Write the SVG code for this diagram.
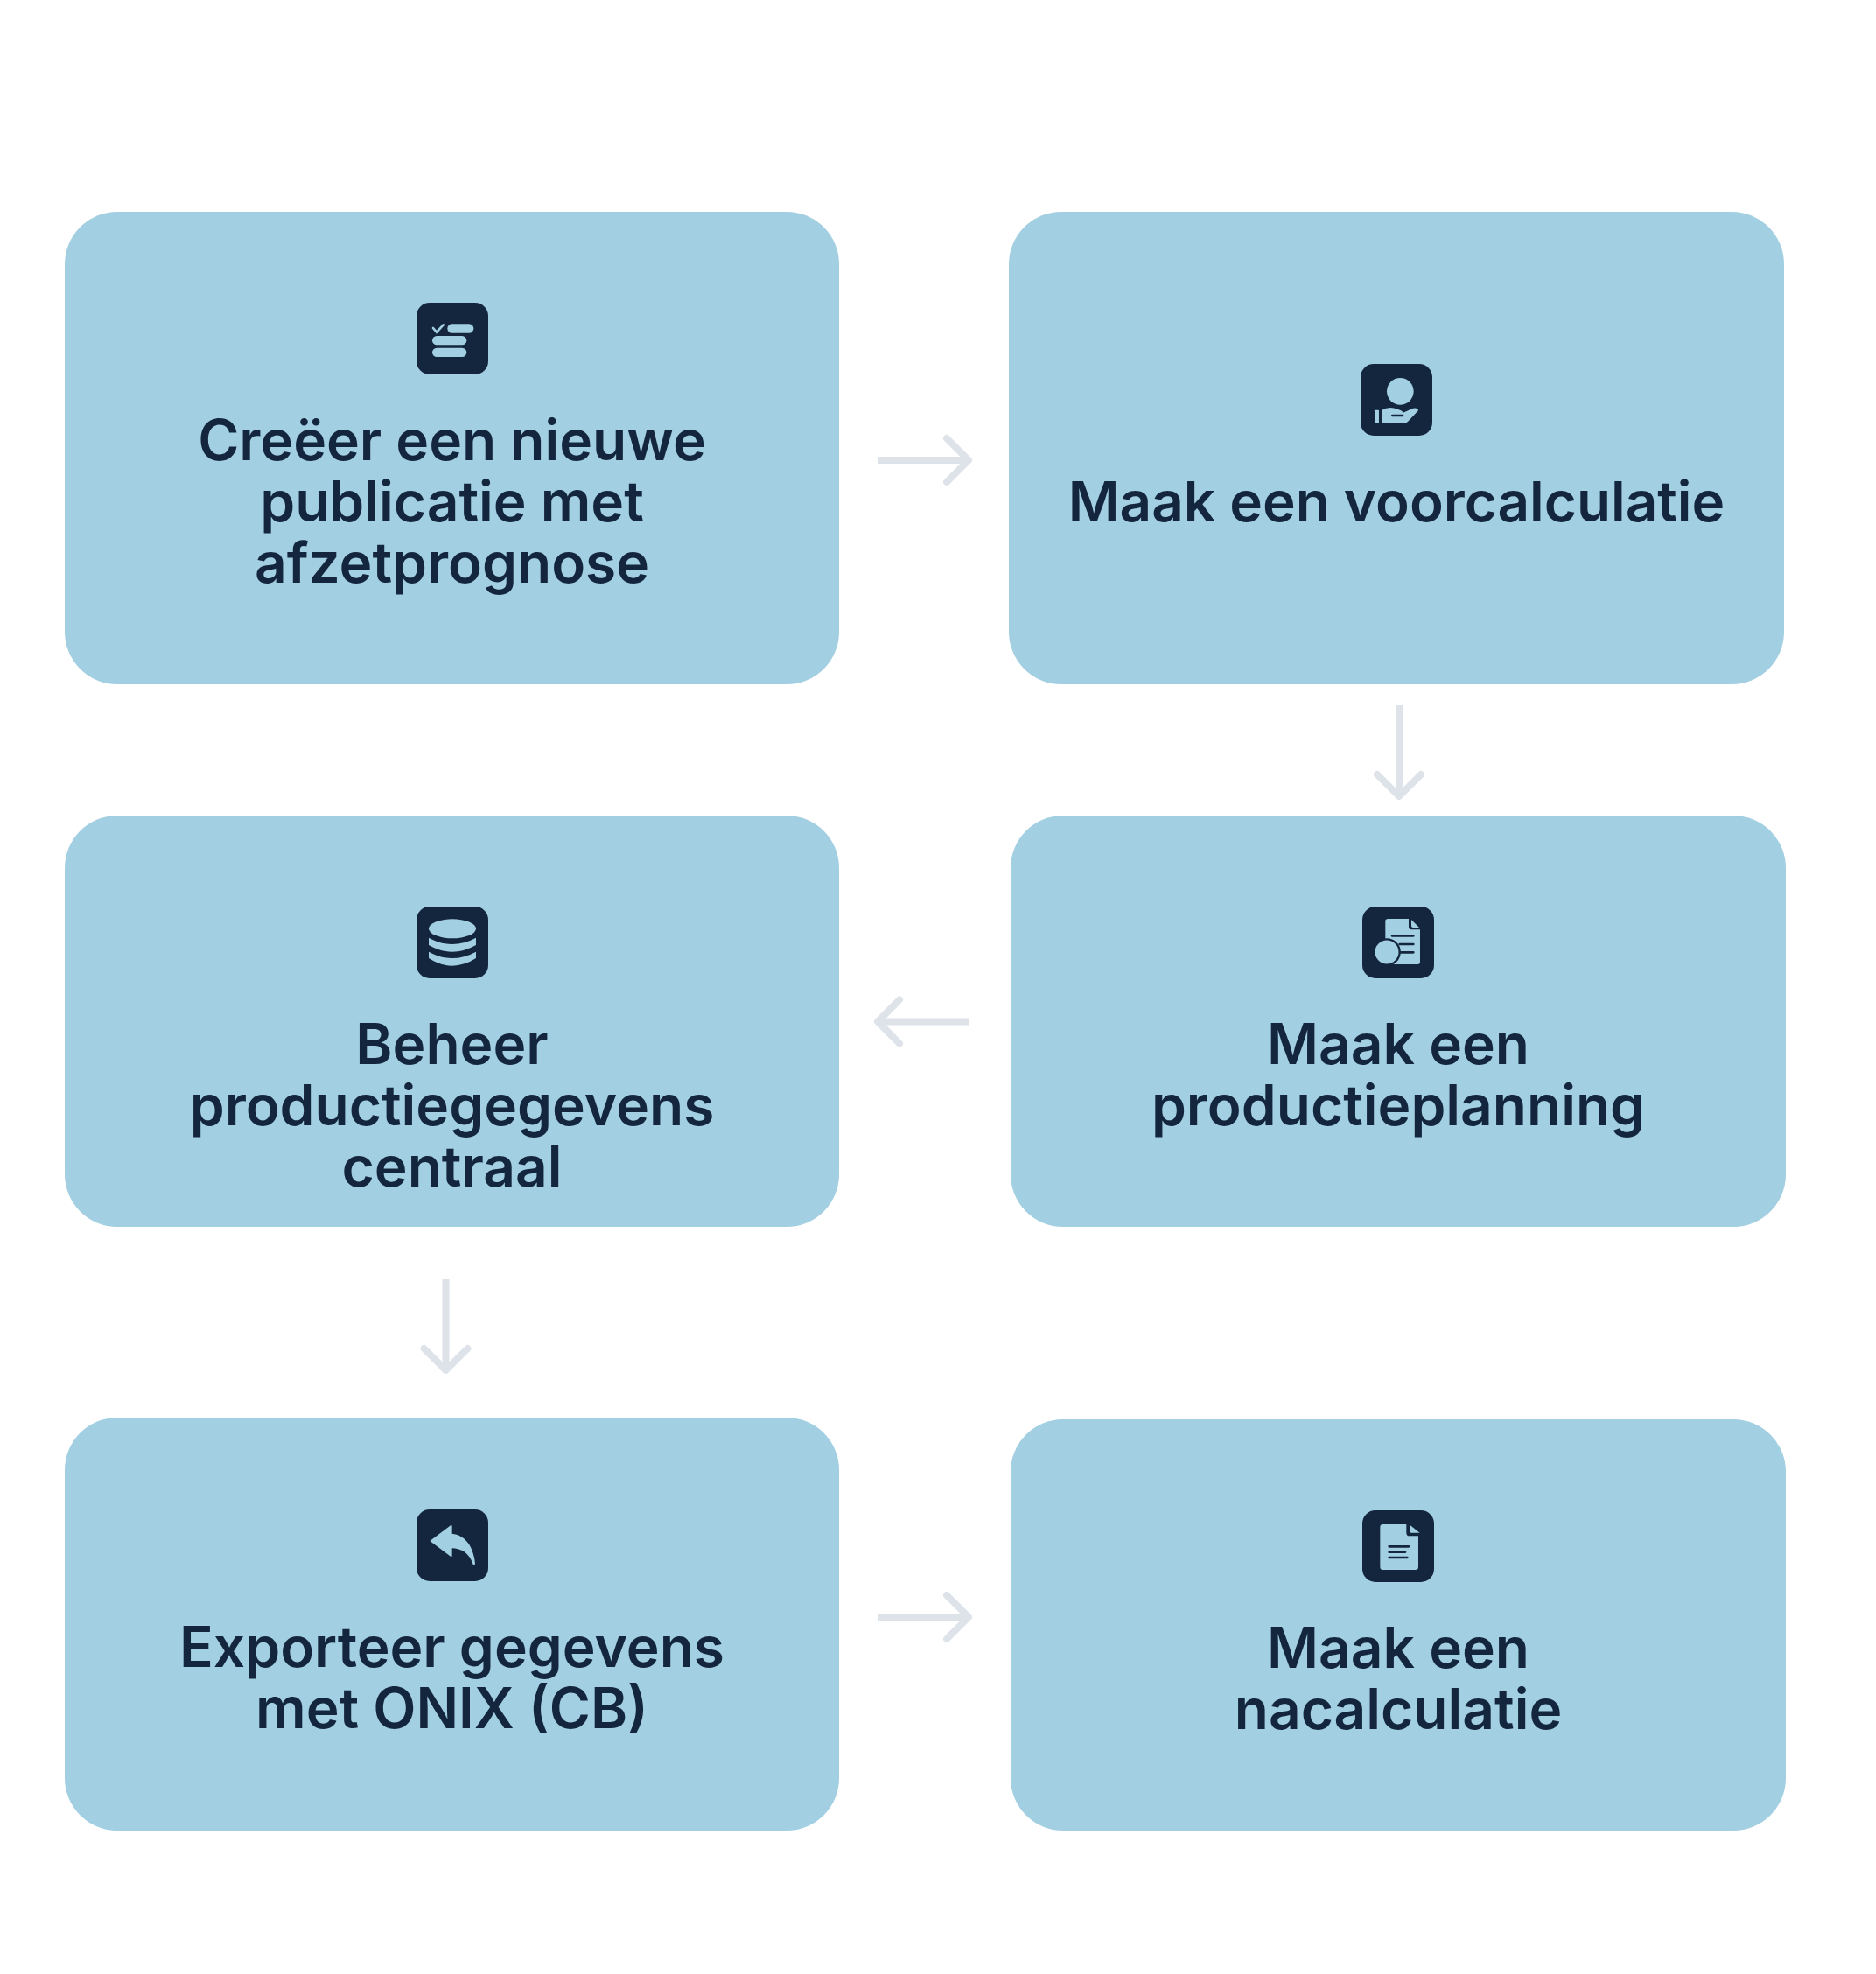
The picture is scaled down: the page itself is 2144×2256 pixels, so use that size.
<svg xmlns="http://www.w3.org/2000/svg" width="2144" height="2256" viewBox="0 0 2144 2256">
<style>
.box{fill:#A2CFE2}
.tile{fill:#14263D}
.ic{fill:#A2CFE2}
.sl{stroke:#14263D;stroke-width:8;fill:none;stroke-linecap:round}
.lb{font-family:"Inter","Liberation Sans",sans-serif;font-weight:600;font-size:64px;fill:#14263D;text-anchor:middle}
.ar{fill:none;stroke:#DEE3EA;stroke-width:8;stroke-linecap:round;stroke-linejoin:round}
.sh{fill:none;stroke:#DEE3EA;stroke-width:8}
</style>
<rect width="2144" height="2256" fill="#FFFFFF"/>
<g id="connectors">
<g id="c1"><path class="sh" d="M1003 526H1105"/><path class="ar" d="M1082 501L1107 526L1082 551"/></g>
<g id="c2"><path class="sh" d="M1599 806V908"/><path class="ar" d="M1574 885L1599 910L1624 885"/></g>
<g id="c3"><path class="sh" d="M1107 1167.500H1005"/><path class="ar" d="M1028 1142.500L1003 1167.500L1028 1192.500"/></g>
<g id="c4"><path class="sh" d="M509.500 1462V1564"/><path class="ar" d="M484.500 1541L509.500 1566L534.500 1541"/></g>
<g id="c5"><path class="sh" d="M1003 1848H1105"/><path class="ar" d="M1082 1823L1107 1848L1082 1873"/></g>
</g>
<g id="node1">
<rect class="box" x="74" y="242" width="885" height="540" rx="60"/>
<rect class="tile" x="476" y="346" width="82" height="82" rx="15"/>
<g transform="translate(450 330) scale(.3333)">
<path d="M135 135L147 149L170 124" fill="none" stroke="#A2CFE2" stroke-width="8" stroke-linecap="round"/>
<rect class="ic" x="184" y="121" width="90" height="31" rx="15.5"/>
<rect class="ic" x="132" y="162" width="118" height="31" rx="15.5"/>
<rect class="ic" x="132" y="203" width="118" height="31" rx="15.5"/>
</g>
<text class="lb" x="516.500" y="526">Creëer een nieuwe</text>
<text class="lb" x="516.500" y="596">publicatie met</text>
<text class="lb" x="516.500" y="666">afzetprognose</text>
</g>
<g id="node2">
<rect class="box" x="1153" y="242" width="886" height="540" rx="60"/>
<rect class="tile" x="1555" y="416" width="82" height="82" rx="15"/>
<g transform="translate(1529 400) scale(.3333)">
<circle class="ic" cx="214" cy="142" r="46"/>
<rect class="ic" x="126" y="206" width="15" height="44" rx="2"/>
<path class="ic" d="M150 207Q175 192 205 203Q222 208 224 215L258 200Q275 197 276 208L240 246Q235 251 225 251H150Z"/>
<path class="sl" d="M187 225H222"/>
</g>
<text class="lb" style="font-size:63.8px" x="1596" y="596">Maak een voorcalculatie</text>
</g>
<g id="node3">
<rect class="box" x="1155" y="932" width="886" height="470" rx="60"/>
<rect class="tile" x="1557" y="1036" width="82" height="82" rx="15"/>
<g transform="translate(1529 1020) scale(.3333)">
<path class="ic" d="M172 90H243V118Q243 127 252 127H282V238Q282 246 274 246H172Q163 246 163 238V98Q163 90 172 90Z"/>
<path class="ic" d="M252 93L279 120H258Q252 120 252 114Z"/>
<path class="sl" d="M186 148H259M212 177H259M215 205H259"/>
<circle class="ic" cx="168" cy="204" r="44" stroke="#14263D" stroke-width="7"/>
</g>
<text class="lb" x="1598" y="1216">Maak een</text>
<text class="lb" x="1598" y="1286">productieplanning</text>
</g>
<g id="node4">
<rect class="box" x="74" y="932" width="885" height="470" rx="60"/>
<rect class="tile" x="476" y="1036" width="82" height="82" rx="15"/>
<g transform="translate(450 1020) scale(.3333)">
<ellipse class="ic" cx="201" cy="124" rx="81" ry="33"/>
<path class="ic" d="M120 155Q201 199 282 155V180Q201 226 120 180Z"/>
<path class="ic" d="M120 203Q201 247 282 203V225Q201 277 120 225Z"/>
</g>
<text class="lb" x="516.500" y="1216">Beheer</text>
<text class="lb" x="516.500" y="1286">productiegegevens</text>
<text class="lb" x="516.500" y="1356">centraal</text>
</g>
<g id="node5">
<rect class="box" x="74" y="1620" width="885" height="472" rx="60"/>
<rect class="tile" x="476" y="1725" width="82" height="82" rx="15"/>
<g transform="translate(450 1705) scale(.3333)">
<path class="ic" d="M124 168L195 115Q200 112 200 118V143C250 148 275 195 279 246Q276 254 272 248C260 215 240 195 200 193V218Q200 224 195 221Z"/>
</g>
<text class="lb" x="516.500" y="1905">Exporteer gegevens</text>
<text class="lb" x="516.500" y="1975">met ONIX (CB)</text>
</g>
<g id="node6">
<rect class="box" x="1155" y="1622" width="886" height="470" rx="60"/>
<rect class="tile" x="1557" y="1726" width="82" height="82" rx="15"/>
<g transform="translate(1529 1705) scale(.3333)">
<path class="ic" d="M155 111H235V140Q235 151 246 151H276V257Q276 267 266 267H155Q145 267 145 257V121Q145 111 155 111Z"/>
<path class="ic" d="M247 113L281 140H252Q247 140 247 135Z"/>
<path class="sl" d="M176 187H243M176 206H231M176 225H238"/>
</g>
<text class="lb" x="1598" y="1906">Maak een</text>
<text class="lb" x="1598" y="1976">nacalculatie</text>
</g>
</svg>
